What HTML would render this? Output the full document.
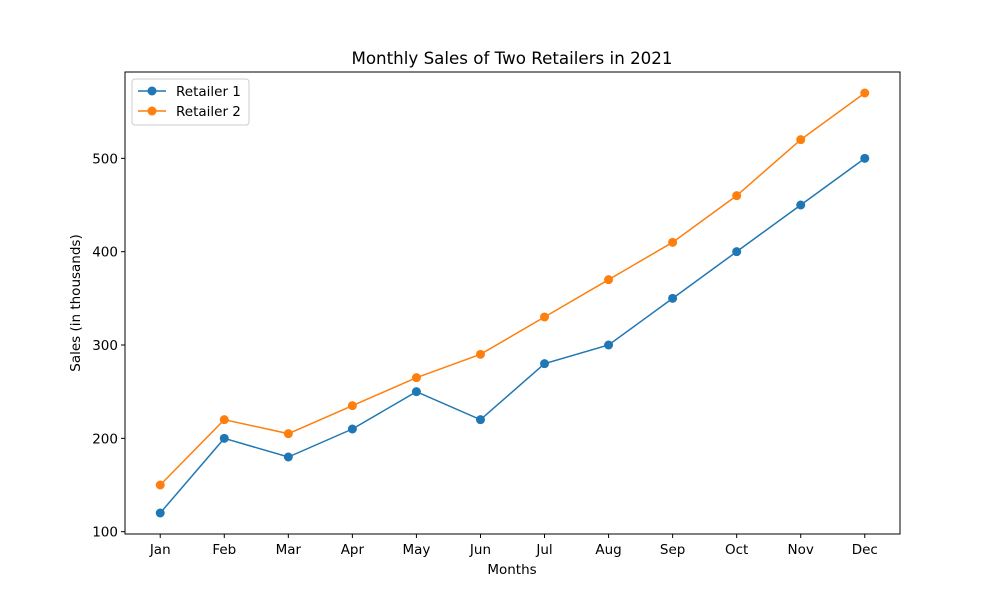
<!DOCTYPE html>
<html><head><meta charset="utf-8"><style>
body{margin:0;background:#fff;}
svg text{font-family:"DejaVu Sans","Liberation Sans",sans-serif;fill:#000;}
</style></head><body>
<svg id="chart" width="1000" height="600" xmlns="http://www.w3.org/2000/svg">
<rect width="1000" height="600" fill="#fff"/>
<text x="512" y="64" font-size="16.7" text-anchor="middle">Monthly Sales of Two Retailers in 2021</text>
<g id="axes"></g>
<g id="series"></g>
<rect x="125" y="72" width="775" height="462" fill="none" stroke="#000" stroke-width="1"/>
<text x="512" y="574" font-size="13.5" text-anchor="middle">Months</text>
<text transform="translate(80,303) rotate(-90)" font-size="13.5" text-anchor="middle">Sales (in thousands)</text>
<g>
<rect x="132" y="79" width="117" height="46" fill="#fff" stroke="#ccc" rx="3"/>
<line x1="138" y1="91" x2="166" y2="91" stroke="#1f77b4" stroke-width="1.5"/>
<circle cx="152" cy="91" r="4.5" fill="#1f77b4"/>
<text x="176" y="96" font-size="13.5">Retailer 1</text>
<line x1="138" y1="111" x2="166" y2="111" stroke="#ff7f0e" stroke-width="1.5"/>
<circle cx="152" cy="111" r="4.5" fill="#ff7f0e"/>
<text x="176" y="116" font-size="13.5">Retailer 2</text>
</g>
</svg>
<script>
const months=["Jan","Feb","Mar","Apr","May","Jun","Jul","Aug","Sep","Oct","Nov","Dec"];
const retailer1=[120,200,180,210,250,220,280,300,350,400,450,500];
const retailer2=[150,220,205,235,265,290,330,370,410,460,520,570];
const yTicks=[100,200,300,400,500];
const NS="http://www.w3.org/2000/svg";
const L=125,R=900,T=72,B=534;
const xmin=-0.55,xmax=months.length-1+0.55;
const all=retailer1.concat(retailer2);
const dmin=Math.min(...all),dmax=Math.max(...all),pad=(dmax-dmin)*0.05;
const ymin=dmin-pad,ymax=dmax+pad;
const xs=i=>L+(i-xmin)/(xmax-xmin)*(R-L);
const ys=v=>B-(v-ymin)/(ymax-ymin)*(B-T);
function mk(tag,attrs,parent){const e=document.createElementNS(NS,tag);for(const k in attrs)e.setAttribute(k,attrs[k]);parent.appendChild(e);return e;}
const axes=document.getElementById('axes'),ser=document.getElementById('series');
months.forEach((m,i)=>{
  const x=xs(i);
  const t=mk('line',{x1:x,y1:B,x2:x,y2:B+4,stroke:'#000'},axes);
  
  
  const tx=mk('text',{x:x,y:B+20,'font-size':13.5,'text-anchor':'middle'},axes);
  tx.textContent=m;
  
  
});
yTicks.forEach(v=>{
  const y=ys(v);
  const t=mk('line',{x1:L-4,y1:y,x2:L,y2:y,stroke:'#000'},axes);
  
  
  const tx=mk('text',{x:L-7,y:y+5,'font-size':13.5,'text-anchor':'end'},axes);
  tx.textContent=v;
  
  
});
[[retailer1,'#1f77b4','retailer-1'],[retailer2,'#ff7f0e','retailer-2']].forEach(([d,c,n])=>{
  const p=mk('polyline',{points:d.map((v,i)=>xs(i)+','+ys(v)).join(' '),fill:'none',stroke:c,'stroke-width':1.5},ser);
  
  
  d.forEach((v,i)=>{
    const ci=mk('circle',{cx:xs(i),cy:ys(v),r:4.5,fill:c},ser);
    
    
  });
});
</script>
</body></html>
